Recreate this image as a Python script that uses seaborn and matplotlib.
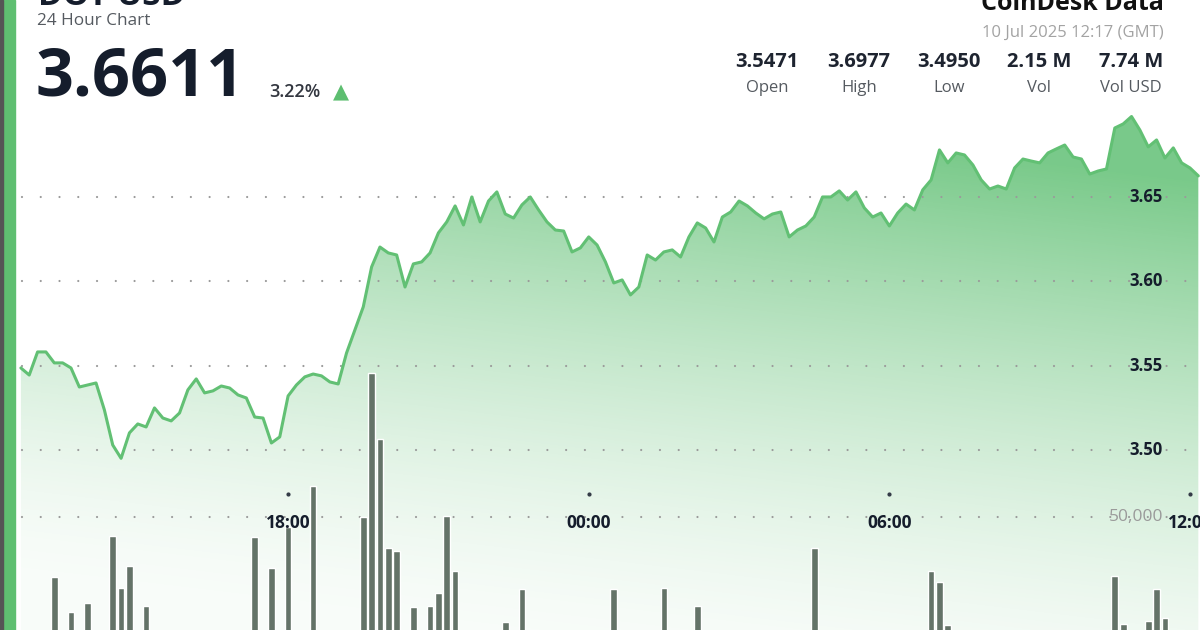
import numpy as np
import pandas as pd
import matplotlib
matplotlib.use('Agg')
import matplotlib.pyplot as plt
import matplotlib.transforms as mtrans
from matplotlib.colors import to_rgb
from matplotlib.patches import Rectangle
import seaborn as sns

# --- data (10-minute steps, first point 12:40 on 9 Jul) ---
prices = [
    3.5486, 3.5444, 3.5581, 3.5581, 3.5516, 3.5516, 3.5486, 3.5373, 3.5385, 3.5397,
    3.5237, 3.5029, 3.4950, 3.5101, 3.5154, 3.5136, 3.5249, 3.5189, 3.5172, 3.5219,
    3.5356, 3.5421, 3.5338, 3.5350, 3.5379, 3.5367, 3.5326, 3.5308, 3.5195, 3.5189,
    3.5041, 3.5077, 3.5320, 3.5385, 3.5433, 3.5450, 3.5439, 3.5403, 3.5391, 3.5575,
    3.5711, 3.5848, 3.6085, 3.6203, 3.6168, 3.6156, 3.5966, 3.6103, 3.6115, 3.6168,
    3.6287, 3.6352, 3.6447, 3.6334, 3.6500, 3.6352, 3.6476, 3.6530, 3.6399, 3.6375,
    3.6453, 3.6500, 3.6423, 3.6352, 3.6304, 3.6298, 3.6174, 3.6198, 3.6263, 3.6215,
    3.6115, 3.5990, 3.6008, 3.5919, 3.5966, 3.6156, 3.6126, 3.6174, 3.6186, 3.6144,
    3.6263, 3.6346, 3.6316, 3.6233, 3.6381, 3.6411, 3.6476, 3.6447, 3.6405, 3.6370,
    3.6399, 3.6411, 3.6263, 3.6304, 3.6328, 3.6381, 3.6500, 3.6500, 3.6536, 3.6482,
    3.6530, 3.6435, 3.6381, 3.6405, 3.6328, 3.6405, 3.6458, 3.6423, 3.6542, 3.6601,
    3.6779, 3.6702, 3.6761, 3.6749, 3.6690, 3.6601, 3.6547, 3.6565, 3.6547, 3.6672,
    3.6725, 3.6713, 3.6702, 3.6761, 3.6785, 3.6808, 3.6737, 3.6725, 3.6636, 3.6654,
    3.6666, 3.6909, 3.6933, 3.6977, 3.6897, 3.6797, 3.6838, 3.6731, 3.6791, 3.6702,
    3.6672, 3.6625,
]
start_time = '2025-07-09 12:40'

bar_times = [
    '13:20', '13:40', '14:00', '14:30', '14:40', '14:50', '15:10', '17:20', '17:40',
    '18:00', '18:30', '19:30', '19:40', '19:50', '20:00', '20:10', '20:30', '20:50',
    '21:00', '21:10', '21:20', '22:20', '22:40', '00:30', '01:30', '02:10', '04:30',
    '06:50', '07:00', '07:10', '10:30', '10:40', '11:10', '11:20', '11:30',
]
volumes = [
    25600, 11400, 15000, 42300, 21100, 30100, 13800, 41900, 29300,
    46000, 62600, 50000, 108500, 81700, 37400, 36200, 13400, 13800,
    19100, 50400, 28000, 7300, 20700, 20700, 21100, 13800, 37400,
    28000, 23600, 6100, 26000, 6500, 7700, 20700, 8900,
]

time_ticks = [0, 6, 12, 18]
time_labels = ['18:00', '00:00', '06:00', '12:00']
price_ticks = [3.50, 3.55, 3.60, 3.65]
vol_ticks = [50000]

stat_values = ['3.5471', '3.6977', '3.4950', '2.15 M', '7.74 M']
stat_names = ['Open', 'High', 'Low', 'Vol', 'Vol USD']

# --- build frames (hours relative to 18:00) ---
ref = pd.Timestamp('2025-07-09 18:00')
t0 = pd.Timestamp(start_time)
times = pd.date_range(t0, periods=len(prices), freq='10min')
price_df = pd.DataFrame({'hours': (times - ref) / pd.Timedelta(hours=1), 'price': prices})

bts = []
for s in bar_times:
    ts = pd.Timestamp('2025-07-09 ' + s)
    if ts < t0:
        ts += pd.Timedelta(days=1)
    bts.append(ts)
vol_df = pd.DataFrame({'hours': (pd.DatetimeIndex(bts) - ref) / pd.Timedelta(hours=1),
                       'volume': volumes})

sns.set_theme(style='white')
plt.rcParams['font.family'] = ['Open Sans', 'DejaVu Sans']
plt.rcParams['lines.scale_dashes'] = False

W, H = 1200, 630
fig = plt.figure(figsize=(12, 6.3), dpi=100)
fig.patch.set_facecolor('white')
ax = fig.add_axes([0, 0, 1, 1])
axv = ax.twinx()

xlim = (-5.75, 18.2)
ylim = (3.3932, 3.7668)
vlim = (4000, 260000)

GREEN = '#5dbe70'
DARK = '#151d2c'

# gradient fill under the line
yy, xx = np.mgrid[0:H, 0:W]
t = np.clip((yy - 110 - 0.12 * (xx - 600)) / 540.0, 0, 1)
img = np.zeros((H, W, 4))
img[..., :3] = to_rgb(GREEN)
img[..., 3] = 0.04 + 0.78 * (1 - t) ** 1.5
im = ax.imshow(img, extent=[xlim[0], xlim[1], ylim[0], ylim[1]], aspect='auto',
               origin='upper', zorder=1, interpolation='bilinear')
poly = ax.fill_between(price_df['hours'], price_df['price'], ylim[0], color='none')
im.set_clip_path(poly.get_paths()[0], transform=ax.transData)

sns.lineplot(data=price_df, x='hours', y='price', ax=ax, color='#62c074', lw=2.2, zorder=3)

# dotted grid
dots = (11.2, (0.01, 13.5))
for p in price_ticks:
    ax.axhline(p, color='#9a9a9a', lw=1.6, linestyle=dots, dash_capstyle='round', zorder=2)
    ax.text(1163 / W, p, f'{p:.2f}', transform=mtrans.blended_transform_factory(ax.transAxes, ax.transData),
            ha='right', va='center', fontsize=12, fontweight='bold', color=DARK, zorder=6)

sns.barplot(data=vol_df, x='hours', y='volume', ax=axv, native_scale=True, width=0.8,
            color='#647368', saturation=1, errorbar=None, zorder=2)
for v in vol_ticks:
    axv.axhline(v, color='#9a9a9a', lw=1.6, linestyle=dots, dash_capstyle='round', zorder=1)
    axv.text(1163 / W, v, f'{v:,}', transform=mtrans.blended_transform_factory(axv.transAxes, axv.transData),
             ha='right', va='center', fontsize=12.5, color='#9a9a9a', zorder=6)

btr = mtrans.blended_transform_factory(axv.transData, axv.transAxes)
axv.scatter(time_ticks, [1 - 494 / H] * len(time_ticks), s=4, color='#333a46', transform=btr, zorder=6)
for h, lab in zip(time_ticks, time_labels):
    axv.text(h, 1 - 523.5 / H, lab, transform=btr, ha='center', va='center',
             fontsize=12.5, fontweight='bold', color=DARK, zorder=7)

ax.set_xlim(xlim)
ax.set_ylim(ylim)
axv.set_ylim(vlim)
ax.set_axis_off()
axv.set_axis_off()

# header texts
fig.text(38 / W, 1 - 5 / H, 'DOT-USD', fontsize=24, fontweight='bold', color=DARK, va='baseline')
fig.text(37 / W, 1 - 21 / H, '24 Hour Chart', fontsize=12.3, color='#555a60', va='center')
fig.text(35 / W, 1 - 95 / H, '3.6611', fontsize=48, fontweight='bold', color=DARK, va='baseline')
fig.text(269 / W, 1 - 97 / H, '3.22%', fontsize=13, fontweight='semibold', color='#333740', va='baseline')
fig.text(341 / W, 1 - 92 / H, '▲', fontsize=15, color=GREEN, ha='center', va='center', family='DejaVu Sans')

fig.text(1164 / W, 1 - 10 / H, 'CoinDesk Data', fontsize=18, fontweight='bold', color='#111111',
         ha='right', va='baseline')
fig.text(1164 / W, 1 - 33 / H, '10 Jul 2025 12:17 (GMT)', fontsize=12, color='#a3a3a3',
         ha='right', va='center')
centers = [767, 859, 949, 1039, 1131]
for cx, val, name in zip(centers, stat_values, stat_names):
    fig.text(cx / W, 1 - 62 / H, val, fontsize=14.5, fontweight='bold', color='#1e2430',
             ha='center', va='center')
    fig.text(cx / W, 1 - 88 / H, name, fontsize=12, color='#555a60', ha='center', va='center')

# left accent bar
fig.add_artist(Rectangle((0, 0), 15 / W, 1, transform=fig.transFigure, color='#5fbf71', zorder=10))
fig.add_artist(Rectangle((0, 0), 2.5 / W, 1, transform=fig.transFigure, color='#555555', zorder=11))

fig.savefig('out.png', dpi=100)
